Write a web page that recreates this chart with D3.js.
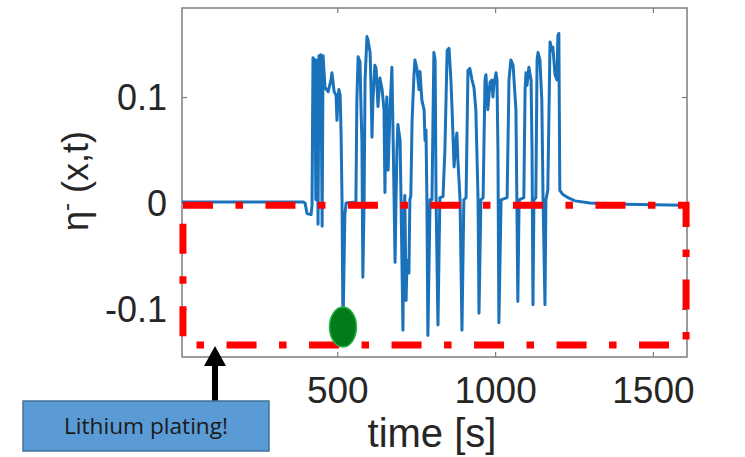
<!DOCTYPE html>
<html><head><meta charset="utf-8">
<script src="https://cdn.jsdelivr.net/npm/d3@7"></script>
<style>html,body{margin:0;padding:0;background:#fff;}svg{display:block;}</style>
</head><body>
<script>
// ---- data ----
const timeS = [0,391,398,404,417,420,423,429,432,436,
  439,442,445,448,452,455,461,471,480,483,
  490,496,499,502,505,509,512,515,518,524,
  528,559,562,566,572,575,578,581,585,588,
  594,597,604,607,610,613,619,623,629,635,
  642,648,651,654,657,661,667,673,676,680,
  683,686,689,692,699,702,708,711,714,718,
  721,727,730,733,737,743,746,752,759,762,
  768,775,778,781,784,787,794,800,806,810,
  813,819,825,835,841,848,854,860,863,870,
  876,879,882,889,895,901,908,914,920,927,
  933,939,946,949,955,962,968,971,977,984,
  990,993,996,1003,1006,1009,1012,1019,1038,1044,
  1050,1057,1066,1069,1072,1076,1091,1095,1098,1101,
  1107,1114,1117,1120,1123,1129,1133,1136,1142,1148,
  1152,1158,1161,1167,1174,1180,1183,1190,1196,1199,
  1202,1205,1215,1231,1253,1301,1364,1600];
const eta = [0.001,0.001,0,-0.010,-0.011,-0.002,0.137,0.135,0.003,0.135,
  -0.020,0.139,0.059,0.140,-0.022,0.139,0.109,0.105,0.116,0.123,
  0.105,0.102,0.078,0.097,0.107,0.102,0.066,0.003,-0.120,-0.011,
  0,0.001,0.097,0.138,0.133,0.091,0.059,-0.070,0.003,0.116,
  0.157,0.154,0.142,0.107,0.062,0.097,0.130,0.127,0.091,0.118,
  0.107,0.088,0.010,0.078,0.100,0.031,0.088,0.128,0.078,0.003,
  -0.056,0.003,0.050,0.074,0.059,0.003,-0.120,-0.016,0.007,-0.092,
  -0.054,-0.066,0.003,0.007,0.078,0.121,0.135,0.127,0.107,0.124,
  0.097,0.088,0.059,0.069,0.003,-0.125,0.003,0.003,0.142,0.135,
  0.003,-0.115,0.005,0.006,0.050,0.144,0.146,0.116,0.094,0.034,
  0.059,0.066,0.041,0.003,-0.120,0.003,0.005,0.125,0.127,0.116,
  0.109,0.088,0.003,-0.104,0.003,0.005,0.116,0.121,0.088,0.114,
  0.116,0.100,0.111,0.123,0.116,0.050,-0.113,0.003,0.005,0.116,
  0.135,0.130,0.088,0.003,-0.093,0.003,0.005,0.107,0.123,0.111,
  0.128,0.116,0.050,-0.096,0.003,0.005,0.135,0.142,0.135,0.097,
  0.003,-0.096,0.003,0.012,0.152,0.144,0.147,0.121,0.116,0.158,
  0.160,0.012,0.008,0.005,0.002,0,-0.001,-0.002];
const xTicks = [500, 1000, 1500];
const yTicks = [-0.1, 0, 0.1];
const yTickLabels = ["-0.1", "0", "0.1"];
const xDomain = [8, 1608];
const yDomain = [-0.1453, 0.184];
// annotation (data units)
const platingBoxT = [11, 1605];
const platingBoxV = [-0.002, -0.134];
const platingPoint = [518, -0.117];
const xLabel = "time [s]";
const calloutText = "Lithium plating!";

// ---- drawing ----
const W = 745, H = 457;
const L = 182, R = 687, T = 8, B = 357;
const svg = d3.select("body").append("svg").attr("width", W).attr("height", H);
const x = d3.scaleLinear().domain(xDomain).range([L, R]);
const y = d3.scaleLinear().domain(yDomain).range([B, T]);
const font = "'Liberation Sans', Arial, Helvetica, sans-serif";
const axisCol = "#7d7d7d", textCol = "#262626";

svg.append("defs").append("clipPath").attr("id", "clip")
  .append("rect").attr("x", L).attr("y", T).attr("width", R - L).attr("height", B - T);

// axes (inward ticks on all four sides)
function styleAxis(g) {
  g.select(".domain").remove();
  g.selectAll(".tick line").attr("stroke", axisCol).attr("stroke-width", 1.2);
}
const gx = svg.append("g").attr("transform", `translate(0,${B})`)
  .call(d3.axisBottom(x).tickValues(xTicks).tickSize(-5).tickFormat(d3.format("d")));
styleAxis(gx);
gx.selectAll(".tick text").attr("y", 46).attr("dy", null)
  .attr("font-family", font).attr("font-size", 37).attr("fill", textCol);
const gxt = svg.append("g").attr("transform", `translate(0,${T})`)
  .call(d3.axisTop(x).tickValues(xTicks).tickSize(-5).tickFormat(""));
styleAxis(gxt);
const gy = svg.append("g").attr("transform", `translate(${L},0)`)
  .call(d3.axisLeft(y).tickValues(yTicks).tickSize(-5).tickFormat((d, i) => yTickLabels[i]));
styleAxis(gy);
gy.selectAll(".tick text").attr("x", -15).attr("dy", "0.36em")
  .attr("font-family", font).attr("font-size", 36).attr("fill", textCol);
const gyr = svg.append("g").attr("transform", `translate(${R},0)`)
  .call(d3.axisRight(y).tickValues(yTicks).tickSize(-5).tickFormat(""));
styleAxis(gyr);

svg.append("rect").attr("x", L).attr("y", T).attr("width", R - L).attr("height", B - T)
  .attr("fill", "none").attr("stroke", axisCol).attr("stroke-width", 1.5);

// data line
const line = d3.line().x((d, i) => x(timeS[i])).y(d => y(d));
svg.append("path").datum(eta).attr("clip-path", "url(#clip)")
  .attr("d", line).attr("fill", "none").attr("stroke", "#1a72bb")
  .attr("stroke-width", 3).attr("stroke-linejoin", "round");

// red dash-dot region
const bx0 = x(platingBoxT[0]), bx1 = x(platingBoxT[1]);
const by0 = y(platingBoxV[0]), by1 = y(platingBoxV[1]);
svg.append("path")
  .attr("d", `M${bx0},${by0}H${bx1}V${by1}H${bx0}Z`)
  .attr("fill", "none").attr("stroke", "#ff0000").attr("stroke-width", 7)
  .attr("stroke-dasharray", "30 22.5 7.5 22.5");

// green marker
svg.append("ellipse").attr("cx", x(platingPoint[0])).attr("cy", y(platingPoint[1]))
  .attr("rx", 13.5).attr("ry", 20).attr("fill", "#007d1a").attr("stroke", "#2fb34e").attr("stroke-width", 1.5);

// callout arrow and box
svg.append("rect").attr("x", 215 - 3).attr("y", 364).attr("width", 6).attr("height", 38).attr("fill", "#000");
svg.append("path").attr("d", "M215,346L226,366L204,366Z").attr("fill", "#000");
svg.append("rect").attr("x", 23).attr("y", 401).attr("width", 246).attr("height", 50)
  .attr("fill", "#5b9bd5").attr("stroke", "#41719c").attr("stroke-width", 1.5);
svg.append("text").attr("x", 146).attr("y", 434).attr("text-anchor", "middle")
  .attr("font-family", "'Open Sans', Roboto, sans-serif").attr("font-size", 21)
  .attr("textLength", 164).attr("lengthAdjust", "spacingAndGlyphs")
  .attr("fill", "#1a1a1a").text(calloutText);

// axis labels
svg.append("text").attr("x", 432).attr("y", 447).attr("text-anchor", "middle")
  .attr("font-family", font).attr("font-size", 40).attr("fill", textCol).text(xLabel);
const yl = svg.append("text").attr("transform", "translate(88,181) rotate(-90)")
  .attr("text-anchor", "middle").attr("font-family", font).attr("font-size", 36).attr("fill", textCol);
yl.append("tspan").text("η");
yl.append("tspan").attr("dy", -14).attr("font-size", 24).text("-");
yl.append("tspan").attr("dy", 14).text(" (x,t)");
</script>
</body></html>
